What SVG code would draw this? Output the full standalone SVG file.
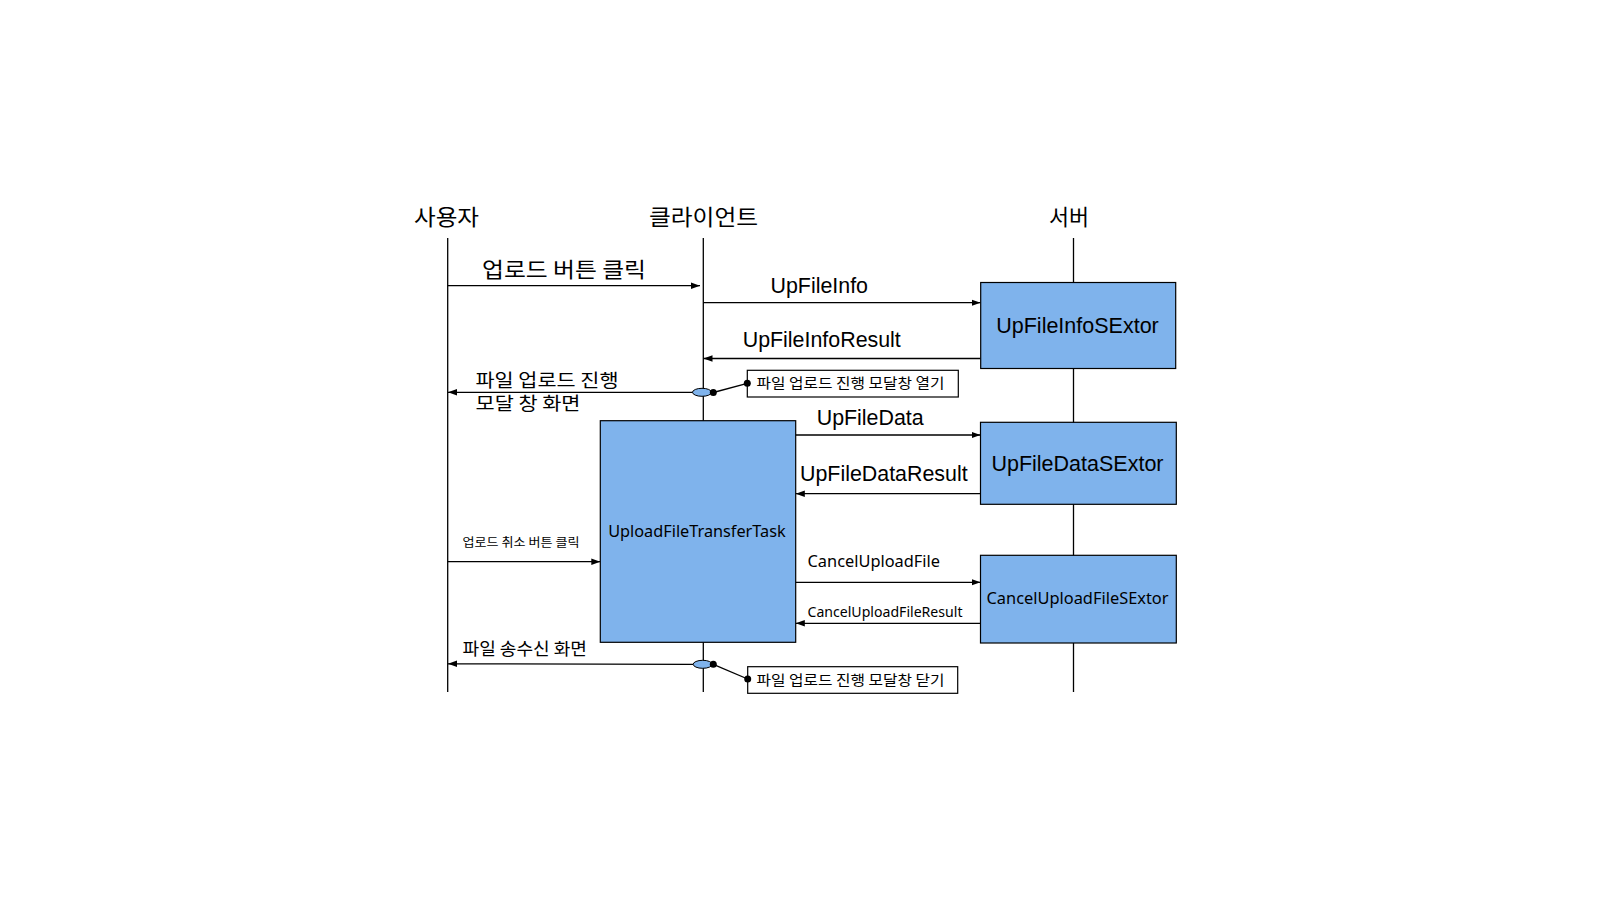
<svg xmlns="http://www.w3.org/2000/svg" width="1600" height="900" viewBox="0 0 1600 900">
<style>
.ll{stroke:#000;stroke-width:1.3;fill:none}
.msg{stroke:#000;stroke-width:1.3;fill:none}
.box{fill:#7fb3ec;stroke:#000;stroke-width:1.2}
.note{fill:#fff;stroke:#000;stroke-width:1.2}
.kr{font-family:"Noto Sans CJK KR","Noto Sans",sans-serif;fill:#000}
.lat{font-family:"Liberation Sans",Arial,sans-serif;fill:#000}
.nt{font-family:"Noto Sans","Noto Sans CJK KR",sans-serif;fill:#000}
</style>
<defs>
<marker id="ah" markerWidth="10" markerHeight="8" refX="9" refY="4" orient="auto" markerUnits="userSpaceOnUse">
<path d="M0,0.8 L9,4 L0,7.2 Z" fill="#000"/>
</marker>
</defs>
<rect width="1600" height="900" fill="#fff"/>

<g id="lifelines">
<line class="ll" x1="447.7" y1="238" x2="447.7" y2="692"/>
<line class="ll" x1="703.3" y1="238" x2="703.3" y2="692"/>
<line class="ll" x1="1073.5" y1="238" x2="1073.5" y2="692"/>
</g>

<g id="headers">
<text class="kr" x="414" y="225" font-size="21.5" textLength="65" lengthAdjust="spacingAndGlyphs">사용자</text>
<text class="kr" x="649" y="225" font-size="21.5" textLength="109" lengthAdjust="spacingAndGlyphs">클라이언트</text>
<text class="kr" x="1049" y="225" font-size="21.5" textLength="40" lengthAdjust="spacingAndGlyphs">서버</text>
</g>

<g id="connectors">
<line class="msg" x1="447.7" y1="285.7" x2="700" y2="285.7" marker-end="url(#ah)"/>
<line class="msg" x1="703.3" y1="302.7" x2="980.5" y2="302.7" marker-end="url(#ah)"/>
<line class="msg" x1="980.5" y1="358.5" x2="703.5" y2="358.5" marker-end="url(#ah)"/>
<line class="msg" x1="693" y1="392.3" x2="448" y2="392.3" marker-end="url(#ah)"/>
<line class="msg" x1="795.5" y1="435" x2="980.5" y2="435" marker-end="url(#ah)"/>
<line class="msg" x1="980.5" y1="493.7" x2="795.8" y2="493.7" marker-end="url(#ah)"/>
<line class="msg" x1="447.7" y1="561.7" x2="600.3" y2="561.7" marker-end="url(#ah)"/>
<line class="msg" x1="795.5" y1="582.3" x2="980.5" y2="582.3" marker-end="url(#ah)"/>
<line class="msg" x1="980.5" y1="623.3" x2="795.8" y2="623.3" marker-end="url(#ah)"/>
<line class="msg" x1="693" y1="664.3" x2="448" y2="663.8" stroke="#333" marker-end="url(#ah)"/>
<line class="msg" x1="713.3" y1="392.5" x2="747.3" y2="383.3"/>
<line class="msg" x1="713.3" y1="664.3" x2="747.7" y2="679"/>
</g>

<g id="labels">
<text class="kr" x="482" y="277" font-size="21" textLength="164" lengthAdjust="spacingAndGlyphs">업로드 버튼 클릭</text>
<text class="lat" x="770.5" y="293.3" font-size="21.4">UpFileInfo</text>
<text class="lat" x="742.7" y="347.3" font-size="21.4">UpFileInfoResult</text>
<text class="kr" x="475.5" y="386.7" font-size="18.5" textLength="143" lengthAdjust="spacingAndGlyphs">파일 업로드 진행</text>
<text class="kr" x="475.5" y="410" font-size="18.5" textLength="105" lengthAdjust="spacingAndGlyphs">모달 창 화면</text>
<text class="lat" x="816.7" y="425" font-size="21.4">UpFileData</text>
<text class="lat" x="800" y="481" font-size="21.4">UpFileDataResult</text>
<text class="kr" x="462.5" y="547.3" font-size="12" textLength="117" lengthAdjust="spacingAndGlyphs">업로드 취소 버튼 클릭</text>
<text class="nt" x="807.5" y="566.7" font-size="17" textLength="132.5" lengthAdjust="spacingAndGlyphs">CancelUploadFile</text>
<text class="nt" x="807.5" y="617.3" font-size="14" textLength="155" lengthAdjust="spacingAndGlyphs">CancelUploadFileResult</text>
<text class="kr" x="462.5" y="655" font-size="17.5" textLength="124.5" lengthAdjust="spacingAndGlyphs">파일 송수신 화면</text>
</g>

<g id="UploadFileTransferTask">
<rect class="box" x="600.3" y="420.7" width="195.4" height="221.6"/>
<text class="nt" x="608.2" y="537.3" font-size="17" textLength="177.5" lengthAdjust="spacingAndGlyphs">UploadFileTransferTask</text>
</g>

<g id="UpFileInfoSExtor">
<rect class="box" x="980.7" y="282.5" width="195" height="86"/>
<text class="lat" x="1077.5" y="332.7" font-size="21.5" text-anchor="middle">UpFileInfoSExtor</text>
</g>

<g id="UpFileDataSExtor">
<rect class="box" x="980.5" y="422.3" width="195.8" height="82"/>
<text class="lat" x="1077.5" y="470.7" font-size="21.5" text-anchor="middle">UpFileDataSExtor</text>
</g>

<g id="CancelUploadFileSExtor">
<rect class="box" x="980.5" y="555.3" width="195.8" height="87.7"/>
<text class="nt" x="986.5" y="604" font-size="17" textLength="182" lengthAdjust="spacingAndGlyphs">CancelUploadFileSExtor</text>
</g>

<g id="activation-open">
<ellipse cx="702" cy="392.3" rx="9.5" ry="4" fill="#7fb3ec" stroke="#000" stroke-width="1"/>
<circle cx="713.3" cy="392.5" r="3.5" fill="#000"/>
</g>

<g id="activation-close">
<ellipse cx="702.7" cy="664.3" rx="9.5" ry="4" fill="#7fb3ec" stroke="#000" stroke-width="1"/>
<circle cx="713.3" cy="664.3" r="3.5" fill="#000"/>
</g>

<g id="note-open">
<rect class="note" x="747.3" y="370.3" width="211" height="26.7"/>
<circle cx="747.3" cy="383.3" r="3.5" fill="#000"/>
<text class="kr" x="756.5" y="388.3" font-size="14" textLength="188" lengthAdjust="spacingAndGlyphs">파일 업로드 진행 모달창 열기</text>
</g>

<g id="note-close">
<rect class="note" x="747.7" y="666.7" width="210" height="26.6"/>
<circle cx="747.7" cy="679" r="3.5" fill="#000"/>
<text class="kr" x="756.5" y="684.5" font-size="14" textLength="188" lengthAdjust="spacingAndGlyphs">파일 업로드 진행 모달창 닫기</text>
</g>
</svg>
